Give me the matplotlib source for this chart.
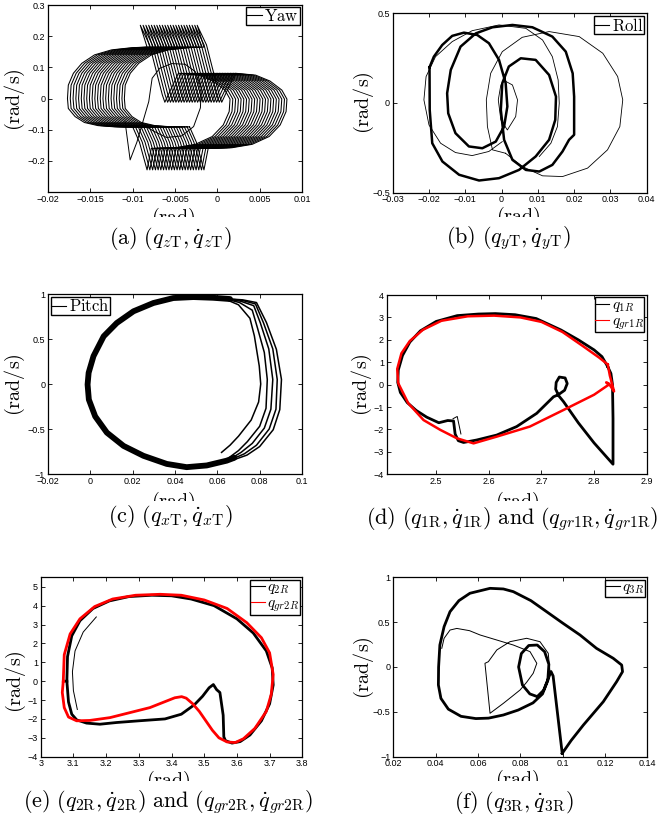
import matplotlib
matplotlib.use('Agg')
import matplotlib.pyplot as plt
from matplotlib.ticker import FuncFormatter
from matplotlib.transforms import Bbox, TransformedBbox
from matplotlib.lines import Line2D

plt.rcParams['mathtext.fontset'] = 'cm'
plt.rcParams['font.family'] = ['Liberation Sans', 'DejaVu Sans']

# ---------------- data ----------------
# (a) Yaw: one gait cycle, repeated with a slow drift
yaw_cycle_x = [-0.0100, -0.0121, -0.0141, -0.0157, -0.0168, -0.0176, -0.0177, -0.0176, -0.0170, -0.0160,
               -0.0145, -0.0125, -0.0101, -0.0083, -0.0091, -0.0080, -0.0065, -0.0062, -0.0046, -0.0022,
               -0.0005, 0.0009, 0.0015, 0.0014, 0.0007, -0.0006, -0.0026, -0.0050, -0.0078, -0.0083,
               -0.0092, -0.0100]
yaw_cycle_y = [-0.091, -0.091, -0.087, -0.077, -0.058, -0.032, 0.000, 0.043, 0.081, 0.113,
               0.140, 0.156, 0.163, 0.165, 0.235, 0.172, 0.012, -0.012, 0.081, 0.075,
               0.056, 0.027, -0.002, -0.042, -0.085, -0.122, -0.147, -0.158, -0.160, -0.229,
               -0.140, -0.091]
yaw_drift = [0.0, 0.00033, 0.00066, 0.00099, 0.00131, 0.00163, 0.00195, 0.00227, 0.00259, 0.00291, 0.00323,
             0.00355, 0.00387, 0.00419, 0.00451, 0.00483, 0.00515, 0.00547, 0.00579, 0.00611, 0.00643, 0.00672]
yaw_trans_x = [-0.0109, -0.0103, -0.0095, -0.0081, -0.0077, -0.0068, -0.0054, -0.0038, -0.0026, -0.0019,
               -0.0020, -0.0028, -0.0042, -0.0060, -0.0075, -0.0085]
yaw_trans_y = [-0.074, -0.197, -0.140, -0.010, 0.065, 0.097, 0.112, 0.110, 0.086, 0.033,
               -0.030, -0.090, -0.120, -0.125, -0.105, -0.089]

# (b) Roll
roll_thick_x = [-0.01985, -0.01866, -0.01636, -0.0136, -0.01037, -0.0067, -0.00348, -0.0007, 0.00113, 0.0016,
                0.0007, -0.0016, -0.0053, -0.009, -0.0127, -0.0147, -0.015, -0.014, -0.0113, -0.0071,
                -0.0025, 0.003, 0.0085, 0.014, 0.0177, 0.0196, 0.02, 0.02, 0.0186, 0.0168,
                0.014, 0.0104, 0.0067, 0.003, 0.0007, -0.0002, 0.0002, 0.002, 0.0053, 0.0094,
                0.0131, 0.015, 0.0148, 0.0131, 0.0094, 0.0048, -0.0007, -0.0062, -0.0117, -0.0163,
                -0.0191, -0.0198, -0.01985]
roll_thick_y = [0.199, 0.258, 0.323, 0.374, 0.392, 0.379, 0.333, 0.240, 0.110, -0.020,
                -0.132, -0.216, -0.253, -0.243, -0.169, -0.058, 0.054, 0.184, 0.314, 0.388,
                0.422, 0.435, 0.422, 0.370, 0.286, 0.165, 0.035, -0.178, -0.206, -0.271,
                -0.346, -0.383, -0.374, -0.318, -0.206, -0.039, 0.110, 0.203, 0.249, 0.240,
                0.156, 0.035, -0.095, -0.206, -0.299, -0.374, -0.420, -0.433, -0.401, -0.327,
                -0.225, -0.039, 0.199]
roll_thin1_x = [0.0002, -0.0035, -0.0081, -0.0127, -0.0168, -0.0200, -0.0214, -0.0208, -0.0182, -0.0136,
                -0.0081, -0.0007, 0.0067, 0.0113, 0.0140, 0.0156, 0.0159, 0.0154, 0.0136, 0.0104]
roll_thin1_y = [-0.216, -0.271, -0.294, -0.277, -0.225, -0.123, 0.017, 0.147, 0.258, 0.342,
                0.403, 0.435, 0.416, 0.351, 0.258, 0.128, -0.002, -0.132, -0.225, -0.299]
roll_thin2_x = [0.0011, -0.0025, -0.0039, -0.0042, -0.0030, 0.0002, 0.0057, 0.0131, 0.0214, 0.0279,
                0.0320, 0.0334, 0.0326, 0.0292, 0.0237, 0.0168, 0.0113, 0.0057, 0.0011]
roll_thin2_y = [-0.281, -0.262, -0.132, 0.017, 0.165, 0.286, 0.366, 0.398, 0.370, 0.277,
                0.147, 0.017, -0.132, -0.262, -0.364, -0.411, -0.407, -0.355, -0.281]
roll_thin3_x = [0.0007, 0.0030, 0.0044, 0.0039, 0.0016, -0.0002, -0.0009, -0.0002, 0.0007]
roll_thin3_y = [0.125, 0.100, 0.017, -0.076, -0.151, -0.095, 0.017, 0.100, 0.125]

# (c) Pitch: shared left arc + several right-hand passes
pitch_arc_x = [0.0660, 0.0580, 0.0487, 0.0392, 0.0298, 0.0204, 0.0125, 0.0063, 0.0015, -0.0008,
               -0.0013, -0.0007, 0.0023, 0.0078, 0.0157, 0.0251, 0.0361, 0.0455, 0.0550, 0.0644, 0.0680]
pitch_arc_y = [0.944, 0.958, 0.966, 0.955, 0.900, 0.808, 0.678, 0.530, 0.310, 0.125,
               -0.006, -0.173, -0.360, -0.540, -0.688, -0.798, -0.888, -0.924, -0.905, -0.852, -0.820]
pitch_r1_x = [0.0640, 0.0720, 0.0785, 0.0832, 0.0879, 0.0903, 0.0895, 0.0864, 0.0800, 0.0740, 0.0680]
pitch_r1_y = [0.948, 0.935, 0.905, 0.683, 0.385, 0.050, -0.285, -0.508, -0.695, -0.790, -0.840]
pitch_r2_x = [0.0640, 0.0715, 0.0780, 0.0818, 0.0862, 0.0883, 0.0877, 0.0845, 0.0785, 0.0728, 0.0675]
pitch_r2_y = [0.948, 0.930, 0.890, 0.680, 0.390, 0.050, -0.280, -0.500, -0.680, -0.775, -0.830]
pitch_r3_x = [0.0640, 0.0710, 0.0772, 0.0803, 0.0843, 0.0862, 0.0853, 0.0822, 0.0765, 0.0712, 0.0670]
pitch_r3_y = [0.948, 0.920, 0.870, 0.680, 0.390, 0.050, -0.280, -0.490, -0.660, -0.760, -0.820]
pitch_r4_x = [0.0640, 0.0705, 0.0765, 0.0790, 0.0822, 0.0836, 0.0830, 0.0800, 0.0742, 0.0700, 0.0660]
pitch_r4_y = [0.945, 0.905, 0.820, 0.620, 0.350, 0.050, -0.270, -0.470, -0.640, -0.740, -0.810]
pitch_r5_x = [0.0640, 0.0700, 0.0754, 0.0775, 0.0798, 0.0805, 0.0795, 0.0760, 0.0700, 0.0660, 0.0620]
pitch_r5_y = [0.940, 0.880, 0.730, 0.534, 0.200, 0.000, -0.200, -0.400, -0.580, -0.680, -0.760]

# (d) q1R (black) and qgr1R (red)
d_black_x = [2.826, 2.832, 2.835, 2.836, 2.836, 2.800, 2.770, 2.742, 2.733, 2.727, 2.728, 2.734, 2.745, 2.749,
             2.744, 2.732, 2.723, 2.691, 2.653, 2.615, 2.577, 2.552, 2.542, 2.536, 2.533, 2.522, 2.505, 2.482,
             2.462, 2.445, 2.432, 2.427, 2.428, 2.436, 2.450, 2.470, 2.500, 2.540, 2.580, 2.6125, 2.650,
             2.690, 2.737, 2.770, 2.800, 2.815, 2.826]
d_black_y = [0.80, 0.50, 0.00, -1.50, -3.55, -2.60, -1.70, -0.76, -0.50, -0.20, 0.10, 0.34, 0.30, 0.05,
             -0.25, -0.45, -0.54, -1.28, -1.87, -2.25, -2.47, -2.58, -2.50, -2.20, -1.62, -1.60, -1.70, -1.45,
             -1.15, -0.80, -0.35, 0.10, 0.65, 1.30, 1.90, 2.40, 2.82, 3.08, 3.15, 3.17, 3.12,
             2.95, 2.44, 2.00, 1.55, 1.25, 0.80]
d_black_thin_x = [2.547, 2.540, 2.532]
d_black_thin_y = [-2.20, -1.42, -1.52]
d_red_x = [2.826, 2.830, 2.838, 2.835, 2.828, 2.823, 2.828, 2.800, 2.742, 2.678, 2.615, 2.571, 2.539,
           2.508, 2.476, 2.447, 2.428, 2.426, 2.434, 2.450, 2.475, 2.510, 2.560, 2.610, 2.660, 2.700,
           2.740, 2.780, 2.810, 2.826]
d_red_y = [0.90, 0.40, -0.30, -0.20, 0.05, 0.10, 0.00, -0.45, -1.13, -1.87, -2.32, -2.62, -2.39,
           -2.02, -1.58, -0.83, 0.06, 0.70, 1.40, 1.95, 2.45, 2.85, 3.05, 3.08, 3.00, 2.80,
           2.35, 1.70, 1.20, 0.90]

# (e) q2R (black) and qgr2R (red)
e_black_x = [3.080, 3.082, 3.095, 3.120, 3.160, 3.210, 3.270, 3.340, 3.400, 3.460, 3.530, 3.600, 3.650,
             3.690, 3.708, 3.711, 3.700, 3.675, 3.640, 3.610, 3.585, 3.565, 3.560, 3.558, 3.548, 3.538,
             3.528, 3.515, 3.495, 3.470, 3.430, 3.380, 3.300, 3.232, 3.181, 3.140, 3.110, 3.095, 3.085, 3.080]
e_black_y = [0.00, 1.30, 2.40, 3.20, 3.85, 4.25, 4.48, 4.55, 4.52, 4.35, 4.00, 3.30, 2.55,
             1.60, 0.70, -0.20, -1.20, -2.10, -2.85, -3.20, -3.28, -3.15, -2.95, -1.80, -0.60, -0.45,
             -0.18, -0.35, -0.80, -1.25, -1.75, -2.00, -2.10, -2.19, -2.28, -2.22, -2.05, -1.75, -1.10, 0.00]
e_black_thin_x = [3.112, 3.100, 3.097, 3.105, 3.130, 3.170]
e_black_thin_y = [-1.50, -0.50, 0.50, 1.60, 2.60, 3.40]
e_red_x = [3.069, 3.072, 3.090, 3.120, 3.165, 3.220, 3.290, 3.365, 3.430, 3.500, 3.570, 3.630, 3.675,
           3.700, 3.711, 3.705, 3.690, 3.655, 3.620, 3.595, 3.570, 3.545, 3.525, 3.505, 3.485, 3.465,
           3.445, 3.431, 3.410, 3.334, 3.212, 3.150, 3.110, 3.085, 3.072, 3.066, 3.069]
e_red_y = [0.00, 1.40, 2.50, 3.30, 3.95, 4.35, 4.55, 4.60, 4.55, 4.30, 3.85, 3.10, 2.30,
           1.50, 0.35, -0.70, -1.60, -2.50, -3.05, -3.25, -3.22, -3.00, -2.60, -2.10, -1.60, -1.20,
           -0.90, -0.82, -0.88, -1.40, -1.93, -2.08, -2.10, -1.90, -1.40, -0.60, 0.00]

# (f) q3R
f_thick_x = [0.0998, 0.0955, 0.0945, 0.0932, 0.0910, 0.0880, 0.0845, 0.0810, 0.0792, 0.0805, 0.0840,
             0.0880, 0.0915, 0.0935, 0.0930, 0.0905, 0.0860, 0.0790, 0.0720, 0.0650, 0.0590, 0.0520,
             0.0460, 0.0425, 0.0413, 0.0414, 0.0420, 0.0440, 0.0468, 0.0510, 0.0562, 0.0657, 0.0720,
             0.0767, 0.0850, 0.0924, 0.1000, 0.1082, 0.1160, 0.1239, 0.1279, 0.1283, 0.1255, 0.1192,
             0.1098, 0.1040, 0.0998]
f_thick_y = [-0.963, -0.100, -0.050, -0.130, -0.260, -0.330, -0.300, -0.200, 0.000, 0.150, 0.240,
             0.245, 0.170, 0.030, -0.150, -0.300, -0.400, -0.480, -0.535, -0.570, -0.575, -0.550,
             -0.470, -0.350, -0.200, 0.000, 0.245, 0.450, 0.617, 0.740, 0.822, 0.877, 0.870,
             0.840, 0.740, 0.617, 0.490, 0.357, 0.208, 0.097, 0.022, -0.052, -0.164, -0.387,
             -0.647, -0.820, -0.963]
f_thin_x = [0.0429, 0.0440, 0.0468, 0.0500, 0.0560, 0.0610, 0.0690, 0.0767, 0.0846, 0.0878, 0.0861,
            0.0830, 0.0799, 0.0760, 0.0720, 0.0657, 0.0633, 0.0649, 0.0689, 0.0751, 0.0830, 0.0893,
            0.0932, 0.0940]
f_thin_y = [0.208, 0.320, 0.412, 0.430, 0.405, 0.357, 0.300, 0.245, 0.171, 0.041, -0.070,
            -0.170, -0.256, -0.330, -0.405, -0.516, 0.041, 0.059, 0.190, 0.282, 0.320, 0.282,
            0.153, -0.050]

# tick values
a_xt = [-0.02, -0.015, -0.01, -0.005, 0, 0.005, 0.01]
a_yt = [-0.2, -0.1, 0, 0.1, 0.2, 0.3]
b_xt = [-0.03, -0.02, -0.01, 0, 0.01, 0.02, 0.03, 0.04]
b_yt = [-0.5, 0, 0.5]
c_xt = [-0.02, 0, 0.02, 0.04, 0.06, 0.08, 0.1]
c_yt = [-1, -0.5, 0, 0.5, 1]
d_xt = [2.5, 2.6, 2.7, 2.8, 2.9]
d_yt = [-4, -3, -2, -1, 0, 1, 2, 3, 4]
e_xt = [3, 3.1, 3.2, 3.3, 3.4, 3.5, 3.6, 3.7, 3.8]
e_yt = [-4, -3, -2, -1, 0, 1, 2, 3, 4, 5]
f_xt = [0.02, 0.04, 0.06, 0.08, 0.1, 0.12, 0.14]
f_yt = [-1, -0.5, 0, 0.5, 1]

# ---------------- figure ----------------
W, H = 661, 821
fig = plt.figure(figsize=(W / 100, H / 100), dpi=100)
fig.patch.set_facecolor('white')

LAB_FS = 14.5
CAP_FS = 16
LEG_FS = 12


def px_axes(l, t, r, b):
    return fig.add_axes([l / W, 1 - b / H, (r - l) / W, (b - t) / H])


def fmt(v, pos):
    return ('%g' % v).replace('-', '\u2212')


def style(ax, xlim, ylim, xt, yt):
    ax.set_xlim(xlim)
    ax.set_ylim(ylim)
    ax.set_xticks(xt)
    ax.set_yticks(yt)
    ax.xaxis.set_major_formatter(FuncFormatter(fmt))
    ax.yaxis.set_major_formatter(FuncFormatter(fmt))
    ax.tick_params(direction='in', top=True, right=True, length=3, width=0.6,
                   labelsize=6.5, pad=2, colors='black')
    for s in ax.spines.values():
        s.set_linewidth(0.9)


def ftext(x, y, s, **kw):
    return fig.text(x / W, 1 - y / H, s, **kw)


def xlabel(cx, ytop, yclip):
    t = ftext(cx, ytop, r'$\mathrm{(rad)}$', ha='center', va='top', fontsize=LAB_FS)
    t.set_clip_box(TransformedBbox(Bbox([[0, 1 - yclip / H], [1, 1]]), fig.transFigure))
    t.set_clip_on(True)


def ylabel(cx, cy):
    ftext(cx, cy, r'$\mathrm{(rad/s)}$', ha='center', va='center', rotation=90, fontsize=LAB_FS)


def legend(ax, items, loc, fs=LEG_FS):
    handles = [Line2D([], [], color=c, lw=0.8) for c, _ in items]
    lg = ax.legend(handles, [l for _, l in items], loc=loc, fontsize=fs, frameon=True,
                   fancybox=False, framealpha=1, edgecolor='black', borderpad=0.05,
                   borderaxespad=0.15, handlelength=0.9, handletextpad=0.15, labelspacing=0.0)
    lg.get_frame().set_linewidth(1.0)


# (a)
ax = px_axes(48, 5, 302, 192)
for s in yaw_drift:
    ax.plot([x + s for x in yaw_cycle_x], yaw_cycle_y, color='black', lw=0.75)
ax.plot(yaw_trans_x, yaw_trans_y, color='black', lw=0.7)
style(ax, (-0.02, 0.01), (-0.3, 0.3), a_xt, a_yt)
legend(ax, [('black', r'$\mathrm{Yaw}$')], 'upper right')

# (b)
ax = px_axes(392.7, 13.3, 646.7, 192.5)
ax.plot(roll_thin1_x, roll_thin1_y, color='black', lw=0.6)
ax.plot(roll_thin2_x, roll_thin2_y, color='black', lw=0.6)
ax.plot(roll_thin3_x, roll_thin3_y, color='black', lw=0.6)
ax.plot(roll_thick_x, roll_thick_y, color='black', lw=1.8, solid_joinstyle='round')
style(ax, (-0.03, 0.04), (-0.5, 0.5), b_xt, b_yt)
legend(ax, [('black', r'$\mathrm{Roll}$')], 'upper right')

# (c)
ax = px_axes(48, 294, 302, 474)
ax.plot(pitch_arc_x, pitch_arc_y, color='black', lw=4.2, solid_joinstyle='round', solid_capstyle='round')
for rx, ry in [(pitch_r1_x, pitch_r1_y), (pitch_r2_x, pitch_r2_y), (pitch_r3_x, pitch_r3_y),
               (pitch_r4_x, pitch_r4_y), (pitch_r5_x, pitch_r5_y)]:
    ax.plot(rx, ry, color='black', lw=1.1, solid_joinstyle='round')
style(ax, (-0.02, 0.1), (-1, 1), c_xt, c_yt)
legend(ax, [('black', r'$\mathrm{Pitch}$')], 'upper left')

# (d)
ax = px_axes(386.7, 295, 646.7, 474.3)
ax.plot(d_black_x, d_black_y, color='black', lw=2.0, solid_joinstyle='round')
ax.plot(d_black_thin_x, d_black_thin_y, color='black', lw=0.7)
ax.plot(d_red_x, d_red_y, color='red', lw=1.8, solid_joinstyle='round')
style(ax, (2.406, 2.9), (-4, 4), d_xt, d_yt)
legend(ax, [('black', r'$q_{1R}$'), ('red', r'$q_{gr1R}$')], 'upper right', fs=11)

# (e)
ax = px_axes(40.7, 577.3, 302.3, 756.7)
ax.plot(e_black_x, e_black_y, color='black', lw=2.0, solid_joinstyle='round')
ax.plot(e_black_thin_x, e_black_thin_y, color='black', lw=0.7)
ax.plot(e_red_x, e_red_y, color='red', lw=2.0, solid_joinstyle='round')
style(ax, (3, 3.8), (-4, 5.5), e_xt, e_yt)
legend(ax, [('black', r'$q_{2R}$'), ('red', r'$q_{gr2R}$')], 'upper right', fs=11)

# (f)
ax = px_axes(393.3, 577.3, 647.3, 756.7)
ax.plot(f_thin_x, f_thin_y, color='black', lw=0.7)
ax.plot(f_thick_x, f_thick_y, color='black', lw=2.0, solid_joinstyle='round')
style(ax, (0.02, 0.14), (-1, 1), f_xt, f_yt)
legend(ax, [('black', r'$q_{3R}$')], 'upper right', fs=11)

# axis labels (bottom of "(rad)" is cropped in the source figure)
for cx, yt, yc in [(173, 206, 217), (518, 205, 217), (173, 490, 501),
                   (517, 490, 501), (168, 769, 781), (517, 768, 781)]:
    xlabel(cx, yt, yc)
for cx, cy in [(15, 100), (364, 103), (15, 385), (362, 385), (16, 682), (364, 668)]:
    ylabel(cx, cy)

# captions
ftext(170, 238, r'$\mathrm{(a)}\ (q_{z\mathrm{T}},\dot{q}_{z\mathrm{T}})$', ha='center', va='center', fontsize=CAP_FS)
ftext(508, 238, r'$\mathrm{(b)}\ (q_{y\mathrm{T}},\dot{q}_{y\mathrm{T}})$', ha='center', va='center', fontsize=CAP_FS)
ftext(170, 517, r'$\mathrm{(c)}\ (q_{x\mathrm{T}},\dot{q}_{x\mathrm{T}})$', ha='center', va='center', fontsize=CAP_FS)
ftext(366, 519, r'$\mathrm{(d)}\ (q_{1\mathrm{R}},\dot{q}_{1\mathrm{R}})\ \mathrm{and}\ (q_{gr1\mathrm{R}},\dot{q}_{gr1\mathrm{R}})$',
      ha='left', va='center', fontsize=CAP_FS)
ftext(168, 802, r'$\mathrm{(e)}\ (q_{2\mathrm{R}},\dot{q}_{2\mathrm{R}})\ \mathrm{and}\ (q_{gr2\mathrm{R}},\dot{q}_{gr2\mathrm{R}})$',
      ha='center', va='center', fontsize=CAP_FS)
ftext(514, 802, r'$\mathrm{(f)}\ (q_{3\mathrm{R}},\dot{q}_{3\mathrm{R}})$', ha='center', va='center', fontsize=CAP_FS)

fig.savefig('out.png', dpi=100)
